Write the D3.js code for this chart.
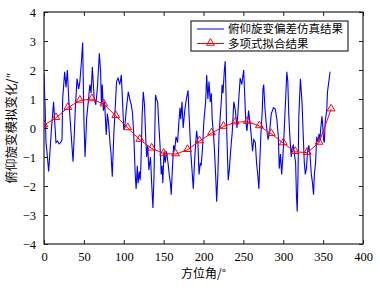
<!DOCTYPE html>
<html>
<head>
<meta charset="utf-8">
<script src="https://cdn.jsdelivr.net/npm/d3@7"></script>
<style>
    body { margin: 0; background: #fff; }
    #chart { width: 380px; height: 290px; }
    .cjk { font-family: "Noto Sans CJK SC", sans-serif; fill: #000; }
</style>
</head>
<body>
<div id="chart"></div>
<script>
// ticks
const xTicks = [0, 50, 100, 150, 200, 250, 300, 350, 400];
const yTicks = [-4, -3, -2, -1, 0, 1, 2, 3, 4];

// simulated pitch resolver error
const simAngles = [0, 1.5, 2.5, 4, 5.8, 7.5, 9.2, 12, 13.5, 15, 17, 19, 21, 22.6, 23.4, 25.9, 27.6, 29.3, 31, 33,
    35, 36.4, 38, 39.3, 41.4, 43.5, 45, 46.8, 48.5, 50, 51.5, 53.5, 55.5, 57.5, 59, 60.6, 63, 65, 67, 69.4,
    71, 72, 73, 74.5, 76, 78, 79.5, 81, 83, 84, 85.6, 87.5, 91, 92.8, 95, 97, 98.5, 100, 101.5, 103,
    105.7, 107.5, 109.5, 111, 112.5, 114.4, 115.5, 117, 118, 119.5, 120.5, 121.5, 123, 124.5, 126, 127.5, 128.7, 130, 131.5, 133.5,
    135, 136.6, 138, 139.8, 141, 142.5, 144, 145.5, 147, 148, 149, 150.5, 152, 153.5, 155.5, 157, 158.5, 159.5, 161, 162.5,
    164, 165.5, 167.5, 169, 170.5, 171.5, 173, 174.5, 176.5, 178.5, 180.6, 182, 184, 187.2, 188.5, 190, 191.4, 193, 194.4, 196,
    197, 198.5, 200.5, 202.7, 204, 205.5, 206.9, 208.5, 209.8, 211, 212.5, 214, 215.5, 216.5, 218, 219.5, 221, 222.5, 223.3, 224.5,
    226, 227.2, 228.2, 229, 230, 231, 232.5, 234, 236, 238, 240, 242, 244, 246, 248, 250.4, 251.5, 253, 254.5, 256.5,
    258.5, 260, 261.5, 263, 265, 266.5, 268, 269.5, 270.5, 272, 273.5, 274.6, 275.5, 277, 278.5, 280, 281, 283, 285, 286.5,
    287.6, 290, 292, 293.8, 295, 296.5, 298, 299.5, 301, 302.8, 304.5, 305.7, 307, 308.5, 310, 311, 312.5, 314.5, 315.5, 316.5,
    317.5, 318.5, 319.5, 321.5, 323.5, 325, 326.4, 327.7, 329, 330.5, 332, 333.5, 335.2, 336.5, 338, 339, 340.5, 342, 343.6, 344.8,
    346, 346.8, 348.5, 349.5, 350.5, 351.5, 352.7, 354.5, 355.5, 358.7];
const simValues = [1.9, 0.6, -0.5, -0.9, -1.5, -0.8, -0.1, 0.9, 0.2, -0.5, -0.45, -0.55, -0.5, -0.4, 1.0, 1.94, 1.4, 2.0, 1.0, 0.2,
    -0.6, -1.16, -0.2, 0.7, 1.7, 1.35, 1.6, 2.24, 2.95, 0.3, -1.0, 0.35, 0.9, 1.5, 1.2, 2.1, 1.0, 0.8, 1.4, 2.58,
    1.94, 0.8, 1.5, 0.6, 0.9, -0.24, 0.5, 0.16, -0.6, -0.86, -1.68, -0.24, 1.6, 1.72, 1.5, 1.83, 0.9, -0.05, 0.1, 0.6,
    1.25, 1.0, 0.8, 0.5, -0.2, -1.62, -2.1, -1.3, -1.9, -1.5, -1.8, -1.3, 0.4, 1.25, 0.8, -0.3, -1.0, -0.6, -1.45, -1.0,
    -1.9, -2.76, -1.6, 1.14, 1.0, 0.9, 0.1, -0.6, -1.6, -1.3, -1.9, -0.8, -1.2, -0.8, -1.2, -1.6, -1.9, -2.3, -1.4, -0.6,
    -0.75, -0.3, -0.5, 0.15, 0.7, 0.3, 0.9, 0.0, 0.6, 1.0, 1.3, 0.4, -0.8, -2.1, -1.3, -0.6, -0.1, -0.5, -1.6, -1.2,
    -1.3, -0.8, 0.25, 0.9, 1.83, 1.0, 1.6, 0.9, 1.2, 0.25, -0.2, -0.9, -1.8, -2.54, -1.6, -0.2, 0.4, 1.0, 1.5, 1.2,
    1.94, 2.3, 1.2, 0.0, -0.9, -1.8, -1.4, -0.8, -0.15, 0.9, 0.6, 0.0, 0.9, 1.72, 1.5, 2.0, 1.25, 0.25, -0.1, 0.6,
    0.15, -0.3, -0.8, -0.4, -0.5, -1.2, -1.6, -2.1, -1.2, -0.2, 0.5, 1.35, 1.5, 0.7, 0.2, -0.2, -0.4, -0.1, 0.5, 0.6,
    0.7, 0.65, 0.3, -0.3, -1.4, -0.9, -1.6, -1.0, -0.2, 0.9, 1.94, 1.6, 0.4, -0.4, -1.0, -0.7, -0.6, -1.0, -1.2, -2.3,
    -2.88, -1.6, 0.4, 1.7, 0.9, -0.2, -1.2, -1.6, -1.4, -0.8, -0.6, -0.9, -1.6, -1.85, -2.3, -1.6, -1.2, -0.3, -0.5, -0.2,
    -0.4, -0.1, 0.4, 0.1, -0.4, -0.5, 0.25, 0.6, 1.25, 1.94];

// polynomial fit
const fitAngles = [0, 15, 30, 45, 60, 75, 90, 105, 120, 135, 150, 165, 180, 195, 210, 225, 240, 255, 270, 285, 300, 315, 330, 345, 360];
const fitValues = [0.1, 0.35, 0.7, 0.95, 1.0, 0.82, 0.42, 0.0, -0.4, -0.7, -0.88, -0.9, -0.75, -0.45, -0.18, 0.05, 0.2, 0.22, 0.07, -0.2, -0.52, -0.82, -0.85, -0.5, 0.65];

// legend / axis labels
const legendLabels = ["俯仰旋变偏差仿真结果", "多项式拟合结果"];
const xLabel = "方位角/°";
const yLabel = "俯仰旋变模拟变化/″";

const serif = "'Liberation Serif', 'DejaVu Serif', serif";

// margin conventions
let margin = {top: 12, right: 17, bottom: 46, left: 44};
let width = 380 - margin.left - margin.right;
let height = 290 - margin.top - margin.bottom;

let svg = d3.select("#chart").append("svg")
    .attr("width", 380)
    .attr("height", 290);

let g = svg.append("g")
    .attr("transform", "translate(" + margin.left + "," + margin.top + ")");

// scales
let x = d3.scaleLinear().domain([0, 400]).range([0, width]);
let y = d3.scaleLinear().domain([-4, 4]).range([height, 0]);

// clip to the axes box
g.append("clipPath").attr("id", "plotClip")
    .append("rect").attr("width", width).attr("height", height);

let plot = g.append("g").attr("clip-path", "url(#plotClip)");

let line = d3.line().x(d => x(d[0])).y(d => y(d[1]));

// blue simulated series
plot.append("path")
    .datum(simAngles.map((a, i) => [a, simValues[i]]))
    .attr("d", line)
    .attr("fill", "none")
    .attr("stroke", "#0000ff")
    .attr("stroke-width", 1.1);

// red fit line + triangles
let fitData = fitAngles.map((a, i) => [a, fitValues[i]]);
plot.append("path")
    .datum(fitData)
    .attr("d", line)
    .attr("fill", "none")
    .attr("stroke", "#ff0000")
    .attr("stroke-width", 1);

let tri = d3.symbol().type(d3.symbolTriangle).size(26);
plot.selectAll(".fit-marker")
    .data(fitData)
    .enter().append("path")
    .attr("class", "fit-marker")
    .attr("d", tri)
    .attr("transform", d => "translate(" + x(d[0]) + "," + (y(d[1]) - 0.5) + ")")
    .attr("fill", "none")
    .attr("stroke", "#ff0000")
    .attr("stroke-width", 1);

// axes (ticks inside, mirrored on top/right)
let xAxis = g.append("g")
    .attr("transform", "translate(0," + height + ")")
    .call(d3.axisBottom(x).tickValues(xTicks).tickSizeInner(-4).tickSizeOuter(0).tickPadding(8));
g.append("g")
    .call(d3.axisTop(x).tickValues(xTicks).tickSizeInner(-4).tickSizeOuter(0).tickFormat(""));
let yAxis = g.append("g")
    .call(d3.axisLeft(y).tickValues(yTicks).tickSizeInner(-4).tickSizeOuter(0).tickPadding(8));
g.append("g")
    .attr("transform", "translate(" + width + ",0)")
    .call(d3.axisRight(y).tickValues(yTicks).tickSizeInner(-4).tickSizeOuter(0).tickFormat(""));

[xAxis, yAxis].forEach(a => a.attr("font-family", serif).attr("font-size", 12.5));

g.selectAll(".domain").remove();
g.selectAll(".tick line").attr("stroke", "#222");
g.selectAll(".tick text").attr("fill", "#000");

// box
g.append("rect")
    .attr("width", width).attr("height", height)
    .attr("fill", "none").attr("stroke", "#222").attr("stroke-width", 1.2);

// legend
let legend = g.append("g").attr("transform", "translate(" + (191 - margin.left) + "," + (21 - margin.top) + ")");
legend.append("rect")
    .attr("width", 157).attr("height", 30)
    .attr("fill", "#fff").attr("stroke", "#000").attr("stroke-width", 1);
let rows = [{c: "#0000ff", m: false}, {c: "#ff0000", m: true}];
rows.forEach((r, i) => {
    let ly = 8 + i * 14.5;
    legend.append("line")
        .attr("x1", 6).attr("x2", 33).attr("y1", ly).attr("y2", ly)
        .attr("stroke", r.c).attr("stroke-width", 1);
    if (r.m) {
        legend.append("path").attr("d", tri)
            .attr("transform", "translate(19.5," + (ly - 0.5) + ")")
            .attr("fill", "none").attr("stroke", r.c);
    }
    legend.append("text")
        .attr("class", "cjk")
        .attr("x", 37).attr("y", ly)
        .attr("dy", "0.36em")
        .style("font-size", "11.5px")
        .text(legendLabels[i]);
});

// axis labels
svg.append("text")
    .attr("class", "cjk")
    .attr("x", margin.left + width / 2).attr("y", 278)
    .attr("text-anchor", "middle")
    .style("font-size", "12px")
    .text(xLabel);

svg.append("text")
    .attr("class", "cjk")
    .attr("transform", "translate(16," + (margin.top + height / 2) + ") rotate(-90)")
    .attr("text-anchor", "middle")
    .style("font-size", "12.5px")
    .text(yLabel);
</script>
</body>
</html>
